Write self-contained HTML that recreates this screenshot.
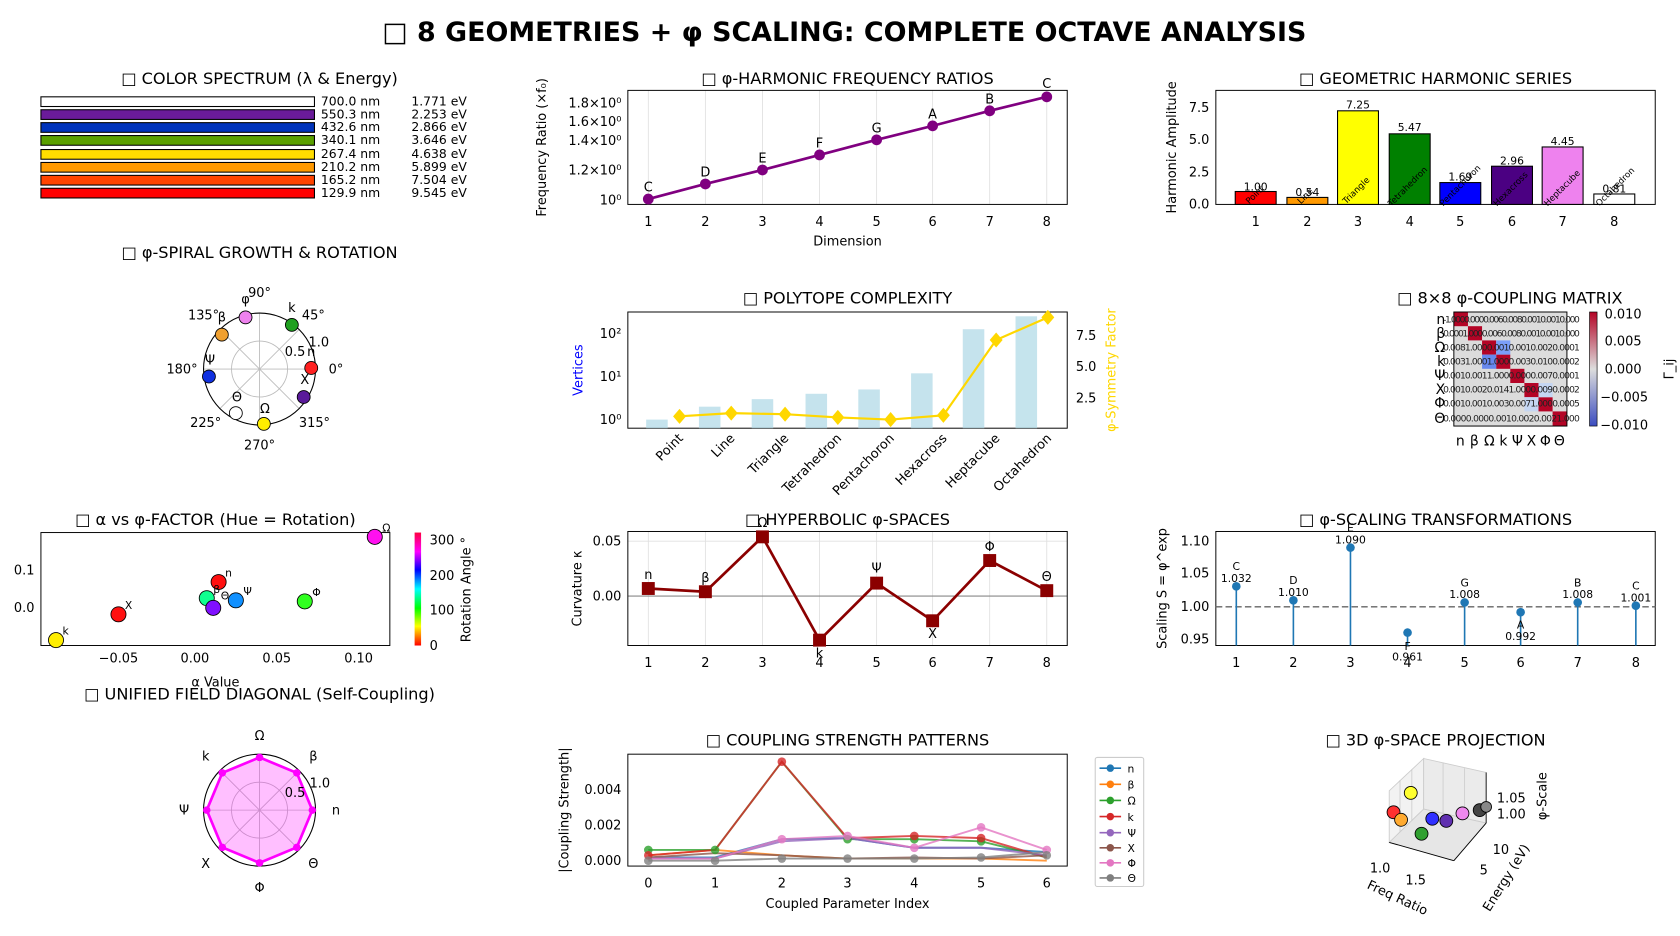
<!DOCTYPE html>
<html><head><meta charset="utf-8"><style>
html,body{margin:0;padding:0;background:#fff;}
svg{display:block;font-family:"DejaVu Sans","Liberation Sans",sans-serif;}
.t{font-size:15px;text-anchor:middle;fill:#000}
.k{font-size:12px;fill:#000}
.s{font-size:10px;fill:#000}
.ax{fill:none;stroke:#000;stroke-width:0.9}
.g{stroke:#e0e0e0;stroke-width:0.8}
</style></head><body>
<svg width="1680" height="936" viewBox="0 0 1560 870" preserveAspectRatio="none">
<defs>
<linearGradient id="cw" x1="0" y1="1" x2="0" y2="0"><stop offset="0" stop-color="#3b4cc0"/><stop offset="0.5" stop-color="#dddddd"/><stop offset="1" stop-color="#b40426"/></linearGradient>
<linearGradient id="hs" x1="0" y1="1" x2="0" y2="0"><stop offset="0" stop-color="#ff0000"/><stop offset="0.17" stop-color="#ffff00"/><stop offset="0.33" stop-color="#00ff00"/><stop offset="0.5" stop-color="#00ffff"/><stop offset="0.67" stop-color="#0000ff"/><stop offset="0.83" stop-color="#ff00ff"/><stop offset="1" stop-color="#ff0040"/></linearGradient>
</defs>
<text x="784" y="38" style="font-size:25px;font-weight:bold" text-anchor="middle">□ 8 GEOMETRIES + φ SCALING: COMPLETE OCTAVE ANALYSIS</text>

<!-- Panel 1 color spectrum -->
<text class="t" x="241" y="78">□ COLOR SPECTRUM (λ &amp; Energy)</text>
<g stroke="#000" stroke-width="1">
<rect x="38" y="90" width="254" height="9" fill="#ffffff"/>
<rect x="38" y="102" width="254" height="9" fill="#6a1b9a"/>
<rect x="38" y="114" width="254" height="9" fill="#0033bb"/>
<rect x="38" y="126" width="254" height="9" fill="#5aa000"/>
<rect x="38" y="139" width="254" height="9" fill="#ffdd00"/>
<rect x="38" y="151" width="254" height="9" fill="#ff9900"/>
<rect x="38" y="163" width="254" height="9" fill="#ff4400"/>
<rect x="38" y="175" width="254" height="9" fill="#ff0000"/>
</g>
<g class="k" style="font-size:11.5px">
<text x="298" y="98">700.0 nm</text><text x="382" y="98">1.771 eV</text>
<text x="298" y="110">550.3 nm</text><text x="382" y="110">2.253 eV</text>
<text x="298" y="122">432.6 nm</text><text x="382" y="122">2.866 eV</text>
<text x="298" y="134">340.1 nm</text><text x="382" y="134">3.646 eV</text>
<text x="298" y="147">267.4 nm</text><text x="382" y="147">4.638 eV</text>
<text x="298" y="159">210.2 nm</text><text x="382" y="159">5.899 eV</text>
<text x="298" y="171">165.2 nm</text><text x="382" y="171">7.504 eV</text>
<text x="298" y="183">129.9 nm</text><text x="382" y="183">9.545 eV</text>
</g>

<!-- Panel 2 freq ratios -->
<text class="t" x="787" y="78">□ φ-HARMONIC FREQUENCY RATIOS</text>
<g class="g"><line x1="602" y1="84" x2="602" y2="190"/><line x1="655" y1="84" x2="655" y2="190"/><line x1="708" y1="84" x2="708" y2="190"/><line x1="761" y1="84" x2="761" y2="190"/><line x1="814" y1="84" x2="814" y2="190"/><line x1="866" y1="84" x2="866" y2="190"/><line x1="919" y1="84" x2="919" y2="190"/><line x1="972" y1="84" x2="972" y2="190"/></g>
<rect class="ax" x="583" y="84" width="408" height="106"/>
<polyline fill="none" stroke="#800080" stroke-width="2.5" points="602,185 655,171 708,158 761,144 814,130 866,117 919,103 972,90"/>
<g fill="#800080"><circle cx="602" cy="185" r="5"/><circle cx="655" cy="171" r="5"/><circle cx="708" cy="158" r="5"/><circle cx="761" cy="144" r="5"/><circle cx="814" cy="130" r="5"/><circle cx="866" cy="117" r="5"/><circle cx="919" cy="103" r="5"/><circle cx="972" cy="90" r="5"/></g>
<g class="k" text-anchor="middle"><text x="602" y="178">C</text><text x="655" y="164">D</text><text x="708" y="151">E</text><text x="761" y="137">F</text><text x="814" y="123">G</text><text x="866" y="110">A</text><text x="919" y="96">B</text><text x="972" y="82">C</text>
<text x="602" y="210">1</text><text x="655" y="210">2</text><text x="708" y="210">3</text><text x="761" y="210">4</text><text x="814" y="210">5</text><text x="866" y="210">6</text><text x="919" y="210">7</text><text x="972" y="210">8</text>
<text x="787" y="228">Dimension</text></g>
<g class="k" text-anchor="end"><text x="577" y="100">1.8×10⁰</text><text x="577" y="117">1.6×10⁰</text><text x="577" y="135">1.4×10⁰</text><text x="577" y="162">1.2×10⁰</text><text x="577" y="190">10⁰</text></g>
<text class="k" transform="translate(507,137) rotate(-90)" text-anchor="middle">Frequency Ratio (×f₀)</text>

<!-- Panel 3 harmonic series -->
<text class="t" x="1333" y="78">□ GEOMETRIC HARMONIC SERIES</text>
<rect class="ax" x="1129" y="84" width="408" height="106"/>
<g stroke="#000" stroke-width="1">
<rect x="1147" y="178" width="38" height="12" fill="#ff0000"/>
<rect x="1195" y="183.5" width="38" height="6.5" fill="#ff9900"/>
<rect x="1242" y="103" width="38" height="87" fill="#ffff00"/>
<rect x="1290" y="124.4" width="38" height="65.6" fill="#008000"/>
<rect x="1337" y="169.7" width="38" height="20.3" fill="#0000ff"/>
<rect x="1385" y="154.5" width="38" height="35.5" fill="#4b0082"/>
<rect x="1432" y="136.6" width="38" height="53.4" fill="#ee82ee"/>
<rect x="1480" y="180.3" width="38" height="9.7" fill="#ffffff"/>
</g>
<g class="s" text-anchor="middle"><text x="1166" y="177">1.00</text><text x="1214" y="182">0.54</text><text x="1261" y="101">7.25</text><text x="1309" y="122">5.47</text><text x="1356" y="168">1.69</text><text x="1404" y="153">2.96</text><text x="1451" y="135">4.45</text><text x="1499" y="179">0.81</text></g>
<g style="font-size:8px">
<text transform="translate(1160,190) rotate(-45)">Point</text><text transform="translate(1208,190) rotate(-45)">Line</text><text transform="translate(1250,190) rotate(-45)">Triangle</text><text transform="translate(1292,192) rotate(-45)">Tetrahedron</text><text transform="translate(1340,192) rotate(-45)">Pentachoron</text><text transform="translate(1390,192) rotate(-45)">Hexacross</text><text transform="translate(1437,192) rotate(-45)">Heptacube</text><text transform="translate(1485,192) rotate(-45)">Octahedron</text></g>
<g class="k" text-anchor="middle"><text x="1166" y="210">1</text><text x="1214" y="210">2</text><text x="1261" y="210">3</text><text x="1309" y="210">4</text><text x="1356" y="210">5</text><text x="1404" y="210">6</text><text x="1451" y="210">7</text><text x="1499" y="210">8</text></g>
<g class="k" text-anchor="end"><text x="1123" y="194">0.0</text><text x="1123" y="164">2.5</text><text x="1123" y="134">5.0</text><text x="1123" y="104">7.5</text></g>
<text class="k" transform="translate(1092,137) rotate(-90)" text-anchor="middle">Harmonic Amplitude</text>

<!-- Panel 4 polar -->
<text class="t" x="241" y="240">□ φ-SPIRAL GROWTH &amp; ROTATION</text>
<g fill="none" stroke="#bbb" stroke-width="0.8"><circle cx="241" cy="343" r="26"/>
<line x1="189" y1="343" x2="293" y2="343"/><line x1="241" y1="291" x2="241" y2="395"/><line x1="204" y1="306" x2="278" y2="380"/><line x1="204" y1="380" x2="278" y2="306"/></g>
<circle cx="241" cy="343" r="52" fill="none" stroke="#000" stroke-width="1"/>
<g stroke="#000" stroke-width="0.8"><circle cx="228" cy="295" r="6" fill="#ee82ee"/><circle cx="206" cy="311" r="6" fill="#f0a030"/><circle cx="271" cy="302" r="6" fill="#20a020"/><circle cx="289" cy="342" r="6" fill="#ff2020"/><circle cx="282" cy="369" r="6" fill="#5a1a9a"/><circle cx="245" cy="394" r="6" fill="#ffee00"/><circle cx="219" cy="384" r="6" fill="#fff"/><circle cx="194" cy="350" r="6" fill="#1030e0"/></g>
<g class="k" text-anchor="middle"><text x="241" y="276">90°</text><text x="291" y="297">45°</text><text x="312" y="347">0°</text><text x="292" y="397">315°</text><text x="241" y="418">270°</text><text x="191" y="397">225°</text><text x="169" y="347">180°</text><text x="189" y="297">135°</text>
<text x="274" y="331">0.5</text><text x="296" y="322">1.0</text>
<text x="228" y="282">φ</text><text x="206" y="299">β</text><text x="271" y="290">k</text><text x="289" y="331">n</text><text x="283" y="357">X</text><text x="246" y="384">Ω</text><text x="220" y="373">Θ</text><text x="195" y="339">Ψ</text></g>

<!-- Panel 5 polytope -->
<text class="t" x="787" y="282">□ POLYTOPE COMPLEXITY</text>
<rect class="ax" x="583" y="290" width="408" height="108"/>
<g fill="#add8e6" opacity="0.7"><rect x="600" y="390" width="20" height="8"/><rect x="649" y="378" width="20" height="20"/><rect x="698" y="371" width="20" height="27"/><rect x="748" y="366" width="20" height="32"/><rect x="797" y="362" width="20" height="36"/><rect x="846" y="347" width="20" height="51"/><rect x="894" y="306" width="20" height="92"/><rect x="943" y="294" width="20" height="104"/></g>
<polyline fill="none" stroke="#ffd700" stroke-width="2" points="631,387 679,384 729,385 778,388 827,390 876,386 925,316 973,295"/>
<g fill="#ffd700"><path d="M631,380l6,7l-6,7l-6,-7z"/><path d="M679,377l6,7l-6,7l-6,-7z"/><path d="M729,378l6,7l-6,7l-6,-7z"/><path d="M778,381l6,7l-6,7l-6,-7z"/><path d="M827,383l6,7l-6,7l-6,-7z"/><path d="M876,379l6,7l-6,7l-6,-7z"/><path d="M925,309l6,7l-6,7l-6,-7z"/><path d="M973,288l6,7l-6,7l-6,-7z"/></g>
<g class="k" text-anchor="end"><text x="577" y="394">10⁰</text><text x="577" y="354">10¹</text><text x="577" y="314">10²</text></g>
<g class="k"><text x="999" y="374">2.5</text><text x="999" y="345">5.0</text><text x="999" y="316">7.5</text></g>
<text class="k" transform="translate(541,344) rotate(-90)" text-anchor="middle" fill="#0000ff" style="fill:#0000ff">Vertices</text>
<text class="k" transform="translate(1036,344) rotate(-90)" text-anchor="middle" style="fill:#ffd700">φ-Symmetry Factor</text>
<g class="k" text-anchor="end"><text transform="translate(635,408) rotate(-45)">Point</text><text transform="translate(683,408) rotate(-45)">Line</text><text transform="translate(733,408) rotate(-45)">Triangle</text><text transform="translate(782,408) rotate(-45)">Tetrahedron</text><text transform="translate(831,408) rotate(-45)">Pentachoron</text><text transform="translate(880,408) rotate(-45)">Hexacross</text><text transform="translate(929,408) rotate(-45)">Heptacube</text><text transform="translate(977,408) rotate(-45)">Octahedron</text></g>

<!-- Panel 6 matrix -->
<text class="t" x="1402" y="282">□ 8×8 φ-COUPLING MATRIX</text>
<rect x="1350" y="290" width="105" height="106" fill="#dcdcdc"/>
<g fill="#b40426"><rect x="1350" y="290" width="13.1" height="13.2"/><rect x="1363.1" y="303.2" width="13.1" height="13.2"/><rect x="1376.2" y="316.4" width="13.1" height="13.2"/><rect x="1389.3" y="329.6" width="13.1" height="13.2"/><rect x="1402.4" y="342.8" width="13.1" height="13.2"/><rect x="1415.5" y="356" width="13.1" height="13.2"/><rect x="1428.6" y="369.2" width="13.1" height="13.2"/><rect x="1441.7" y="382.4" width="13.3" height="13.6"/></g>
<rect x="1389.3" y="316.4" width="13.1" height="13.2" fill="#7b9ff9"/><rect x="1376.2" y="329.6" width="13.1" height="13.2" fill="#6788ee"/>
<rect x="1415.5" y="369.2" width="13.1" height="13.2" fill="#c5d6f2"/><rect x="1428.6" y="356" width="13.1" height="13.2" fill="#c5d6f2"/>
<rect class="ax" x="1350" y="290" width="105" height="106"/>
<g style="font-size:8.5px" fill="#222"><text x="1340" y="300" textLength="127">-1.0000.0000.0060.0080.0010.0010.000</text><text x="1340" y="313" textLength="127">0.0001.0000.0060.0080.0010.0010.000</text><text x="1340" y="326" textLength="127">0.0081.0000.0010.0010.0020.0001</text><text x="1340" y="339" textLength="127">0.0031.0001.0000.0030.0100.0002</text><text x="1340" y="352" textLength="127">0.0010.0011.0000.0000.0070.0001</text><text x="1340" y="365" textLength="127">0.0010.0020.0141.0000.0090.0002</text><text x="1340" y="378" textLength="127">0.0010.0010.0030.0071.0000.0005</text><text x="1340" y="392" textLength="127">0.0000.0000.0010.0020.0021.000</text></g>
<g class="k" text-anchor="end" style="font-size:13px"><text x="1342" y="301">n</text><text x="1342" y="314">β</text><text x="1342" y="327">Ω</text><text x="1342" y="340">k</text><text x="1342" y="353">Ψ</text><text x="1342" y="366">X</text><text x="1342" y="379">Φ</text><text x="1342" y="393">Θ</text></g>
<g class="k" text-anchor="middle" style="font-size:13px"><text x="1356" y="414">n</text><text x="1369" y="414">β</text><text x="1383" y="414">Ω</text><text x="1396" y="414">k</text><text x="1409" y="414">Ψ</text><text x="1422" y="414">X</text><text x="1435" y="414">Φ</text><text x="1448" y="414">Θ</text></g>
<rect x="1476" y="290" width="7" height="106" fill="url(#cw)" stroke="#000" stroke-width="0.6"/>
<g class="k"><text x="1490" y="296">0.010</text><text x="1490" y="321">0.005</text><text x="1490" y="347">0.000</text><text x="1486" y="373">−0.005</text><text x="1486" y="399">−0.010</text></g>
<text class="k" transform="translate(1554,343) rotate(-90)" text-anchor="middle">Γ_ij</text>

<!-- Panel 7 scatter -->
<text class="t" x="200" y="488">□ α vs φ-FACTOR (Hue = Rotation)</text>
<rect class="ax" x="38" y="495" width="324" height="105"/>
<g stroke="#000" stroke-width="0.8"><circle cx="52" cy="595" r="7" fill="#ffee00"/><circle cx="110" cy="571" r="7" fill="#ff1010"/><circle cx="348" cy="499" r="7" fill="#ff10f0"/><circle cx="203" cy="541" r="7" fill="#ff1010"/><circle cx="283" cy="559" r="7" fill="#30ff20"/><circle cx="219" cy="558" r="7" fill="#1090ff"/><circle cx="192" cy="556" r="7" fill="#10ff90"/><circle cx="198" cy="565" r="7" fill="#8010ff"/></g>
<g class="s"><text x="58" y="590">k</text><text x="116" y="566">X</text><text x="355" y="494">Ω</text><text x="209" y="536">n</text><text x="290" y="554">Φ</text><text x="226" y="553">Ψ</text><text x="198" y="551">β</text><text x="205" y="557">Θ</text></g>
<g class="k" text-anchor="middle"><text x="110" y="616">−0.05</text><text x="181" y="616">0.00</text><text x="257" y="616">0.05</text><text x="333" y="616">0.10</text><text x="200" y="638">α Value</text></g>
<g class="k" text-anchor="end"><text x="32" y="534">0.1</text><text x="32" y="569">0.0</text></g>
<rect x="385" y="495" width="6" height="105" fill="url(#hs)"/>
<g class="k"><text x="399" y="604">0</text><text x="399" y="571">100</text><text x="399" y="539">200</text><text x="399" y="506">300</text></g>
<text class="k" transform="translate(437,548) rotate(-90)" text-anchor="middle">Rotation Angle °</text>

<!-- Panel 8 hyperbolic -->
<text class="t" x="787" y="488">□ HYPERBOLIC φ-SPACES</text>
<g class="g"><line x1="602" y1="494" x2="602" y2="600"/><line x1="655" y1="494" x2="655" y2="600"/><line x1="708" y1="494" x2="708" y2="600"/><line x1="761" y1="494" x2="761" y2="600"/><line x1="814" y1="494" x2="814" y2="600"/><line x1="866" y1="494" x2="866" y2="600"/><line x1="919" y1="494" x2="919" y2="600"/><line x1="972" y1="494" x2="972" y2="600"/><line x1="583" y1="503" x2="991" y2="503"/></g>
<line x1="583" y1="554" x2="991" y2="554" stroke="#888" stroke-width="1"/>
<rect class="ax" x="583" y="494" width="408" height="106"/>
<polyline fill="none" stroke="#8b0000" stroke-width="2.5" points="602,547 655,550 708,499 761,595 814,542 866,577 919,521 972,549"/>
<g fill="#8b0000"><rect x="596" y="541" width="12" height="12"/><rect x="649" y="544" width="12" height="12"/><rect x="702" y="493" width="12" height="12"/><rect x="755" y="589" width="12" height="12"/><rect x="808" y="536" width="12" height="12"/><rect x="860" y="571" width="12" height="12"/><rect x="913" y="515" width="12" height="12"/><rect x="966" y="543" width="12" height="12"/></g>
<g class="k" text-anchor="middle"><text x="602" y="538">n</text><text x="655" y="541">β</text><text x="708" y="490">Ω</text><text x="761" y="611">k</text><text x="814" y="532">Ψ</text><text x="866" y="593">X</text><text x="919" y="512">Φ</text><text x="972" y="540">Θ</text>
<text x="602" y="620">1</text><text x="655" y="620">2</text><text x="708" y="620">3</text><text x="761" y="620">4</text><text x="814" y="620">5</text><text x="866" y="620">6</text><text x="919" y="620">7</text><text x="972" y="620">8</text></g>
<g class="k" text-anchor="end"><text x="577" y="507">0.05</text><text x="577" y="558">0.00</text></g>
<text class="k" transform="translate(540,547) rotate(-90)" text-anchor="middle">Curvature κ</text>

<!-- Panel 9 stems -->
<text class="t" x="1333" y="488">□ φ-SCALING TRANSFORMATIONS</text>
<rect class="ax" x="1129" y="494" width="408" height="106"/>
<line x1="1129" y1="564" x2="1537" y2="564" stroke="#666" stroke-width="1.3" stroke-dasharray="6,3"/>
<g stroke="#1f77b4" stroke-width="1.5"><line x1="1148" y1="600" x2="1148" y2="545"/><line x1="1201" y1="600" x2="1201" y2="558"/><line x1="1254" y1="600" x2="1254" y2="509"/><line x1="1307" y1="600" x2="1307" y2="588"/><line x1="1360" y1="600" x2="1360" y2="560"/><line x1="1412" y1="600" x2="1412" y2="569"/><line x1="1465" y1="600" x2="1465" y2="560"/><line x1="1519" y1="600" x2="1519" y2="563"/></g>
<g fill="#1f77b4"><circle cx="1148" cy="545" r="4"/><circle cx="1201" cy="558" r="4"/><circle cx="1254" cy="509" r="4"/><circle cx="1307" cy="588" r="4"/><circle cx="1360" cy="560" r="4"/><circle cx="1412" cy="569" r="4"/><circle cx="1465" cy="560" r="4"/><circle cx="1519" cy="563" r="4"/></g>
<g class="s" text-anchor="middle"><text x="1148" y="530">C</text><text x="1148" y="541">1.032</text><text x="1201" y="543">D</text><text x="1201" y="554">1.010</text><text x="1254" y="494">E</text><text x="1254" y="505">1.090</text><text x="1307" y="604">F</text><text x="1307" y="614">0.961</text><text x="1360" y="545">G</text><text x="1360" y="556">1.008</text><text x="1412" y="584">A</text><text x="1412" y="595">0.992</text><text x="1465" y="545">B</text><text x="1465" y="556">1.008</text><text x="1519" y="548">C</text><text x="1519" y="559">1.001</text></g>
<g class="k" text-anchor="middle"><text x="1148" y="620">1</text><text x="1201" y="620">2</text><text x="1254" y="620">3</text><text x="1307" y="620">4</text><text x="1360" y="620">5</text><text x="1412" y="620">6</text><text x="1465" y="620">7</text><text x="1519" y="620">8</text></g>
<g class="k" text-anchor="end"><text x="1123" y="507">1.10</text><text x="1123" y="537">1.05</text><text x="1123" y="568">1.00</text><text x="1123" y="598">0.95</text></g>
<text class="k" transform="translate(1083,547) rotate(-90)" text-anchor="middle">Scaling S = φ^exp</text>

<!-- Panel 10 radar -->
<text class="t" x="241" y="650">□ UNIFIED FIELD DIAGONAL (Self-Coupling)</text>
<g fill="none" stroke="#bbb" stroke-width="0.8"><circle cx="241" cy="753" r="26"/><line x1="189" y1="753" x2="293" y2="753"/><line x1="241" y1="701" x2="241" y2="805"/><line x1="204" y1="716" x2="278" y2="790"/><line x1="204" y1="790" x2="278" y2="716"/></g>
<circle cx="241" cy="753" r="52" fill="none" stroke="#000"/>
<polygon points="241,704 275.6,718.4 290,753 275.6,787.6 241,802 206.4,787.6 192,753 206.4,718.4" fill="#ff00ff" fill-opacity="0.25" stroke="#ff00ff" stroke-width="2.5"/>
<g fill="#ff00ff"><circle cx="241" cy="704" r="3.5"/><circle cx="275.6" cy="718.4" r="3.5"/><circle cx="290" cy="753" r="3.5"/><circle cx="275.6" cy="787.6" r="3.5"/><circle cx="241" cy="802" r="3.5"/><circle cx="206.4" cy="787.6" r="3.5"/><circle cx="192" cy="753" r="3.5"/><circle cx="206.4" cy="718.4" r="3.5"/></g>
<g class="k" text-anchor="middle"><text x="241" y="688">Ω</text><text x="291" y="707">β</text><text x="312" y="757">n</text><text x="291" y="807">Θ</text><text x="241" y="829">Φ</text><text x="191" y="807">X</text><text x="171" y="757">Ψ</text><text x="191" y="707">k</text><text x="274" y="741">0.5</text><text x="297" y="732">1.0</text></g>

<!-- Panel 11 coupling strength -->
<text class="t" x="787" y="693">□ COUPLING STRENGTH PATTERNS</text>
<rect class="ax" x="583" y="701" width="408" height="104"/>
<g fill="none" stroke-width="1.8" stroke-opacity="0.8">
<polyline stroke="#1f77b4" points="602,797 664,797 726,780 787,779 849,788 911,788 972,792"/>
<polyline stroke="#ff7f0e" points="602,795 664,790 726,795 787,798 849,798 911,798 972,800"/>
<polyline stroke="#2ca02c" points="602,790 664,790 726,708 787,780 849,780 911,782 972,797"/>
<polyline stroke="#d62728" points="602,795 664,790 726,708 787,779 849,777 911,779 972,797"/>
<polyline stroke="#9467bd" points="602,798 664,798 726,782 787,779 849,788 911,788 972,795"/>
<polyline stroke="#8c564b" points="602,797 664,793 726,795 787,798 849,797 911,798 972,795"/>
<polyline stroke="#e377c2" points="602,798 664,798 726,780 787,777 849,788 911,769 972,790"/>
<polyline stroke="#7f7f7f" points="602,800 664,800 726,798 787,798 849,798 911,797 972,792"/>
</g>
<g fill-opacity="0.8"><g fill="#2ca02c"><circle cx="602" cy="790" r="4"/><circle cx="664" cy="790" r="4"/><circle cx="787" cy="780" r="4"/><circle cx="849" cy="780" r="4"/><circle cx="911" cy="782" r="4"/></g><g fill="#d62728"><circle cx="726" cy="708" r="4"/><circle cx="849" cy="777" r="4"/><circle cx="911" cy="779" r="4"/><circle cx="602" cy="795" r="4"/></g><g fill="#e377c2"><circle cx="726" cy="780" r="4"/><circle cx="787" cy="777" r="4"/><circle cx="911" cy="769" r="4"/><circle cx="972" cy="790" r="4"/><circle cx="849" cy="788" r="4"/></g><g fill="#7f7f7f"><circle cx="602" cy="800" r="4"/><circle cx="664" cy="800" r="4"/><circle cx="726" cy="798" r="4"/><circle cx="787" cy="798" r="4"/><circle cx="849" cy="798" r="4"/><circle cx="911" cy="797" r="4"/><circle cx="972" cy="795" r="4"/></g></g>
<g class="k" text-anchor="middle"><text x="602" y="825">0</text><text x="664" y="825">1</text><text x="726" y="825">2</text><text x="787" y="825">3</text><text x="849" y="825">4</text><text x="911" y="825">5</text><text x="972" y="825">6</text><text x="787" y="844">Coupled Parameter Index</text></g>
<g class="k" text-anchor="end"><text x="577" y="804">0.000</text><text x="577" y="771">0.002</text><text x="577" y="738">0.004</text></g>
<text class="k" transform="translate(528,753) rotate(-90)" text-anchor="middle">|Coupling Strength|</text>
<rect x="1017" y="704" width="45" height="120" fill="#fff" stroke="#ccc" rx="2"/>
<g stroke-width="1.5">
<line x1="1021" y1="714" x2="1041" y2="714" stroke="#1f77b4"/><circle cx="1031" cy="714" r="3.5" fill="#1f77b4"/>
<line x1="1021" y1="729" x2="1041" y2="729" stroke="#ff7f0e"/><circle cx="1031" cy="729" r="3.5" fill="#ff7f0e"/>
<line x1="1021" y1="744" x2="1041" y2="744" stroke="#2ca02c"/><circle cx="1031" cy="744" r="3.5" fill="#2ca02c"/>
<line x1="1021" y1="759" x2="1041" y2="759" stroke="#d62728"/><circle cx="1031" cy="759" r="3.5" fill="#d62728"/>
<line x1="1021" y1="774" x2="1041" y2="774" stroke="#9467bd"/><circle cx="1031" cy="774" r="3.5" fill="#9467bd"/>
<line x1="1021" y1="788" x2="1041" y2="788" stroke="#8c564b"/><circle cx="1031" cy="788" r="3.5" fill="#8c564b"/>
<line x1="1021" y1="802" x2="1041" y2="802" stroke="#e377c2"/><circle cx="1031" cy="802" r="3.5" fill="#e377c2"/>
<line x1="1021" y1="816" x2="1041" y2="816" stroke="#7f7f7f"/><circle cx="1031" cy="816" r="3.5" fill="#7f7f7f"/></g>
<g class="s"><text x="1047" y="718">n</text><text x="1047" y="733">β</text><text x="1047" y="748">Ω</text><text x="1047" y="763">k</text><text x="1047" y="778">Ψ</text><text x="1047" y="792">X</text><text x="1047" y="806">Φ</text><text x="1047" y="820">Θ</text></g>

<!-- Panel 12 3D -->
<text class="t" x="1333" y="693">□ 3D φ-SPACE PROJECTION</text>
<g fill="none" stroke="#ccc" stroke-width="0.8"><polygon points="1290,735 1322,705 1322,752 1290,783" fill="#f2f2f2"/><polygon points="1322,705 1380,718 1380,765 1322,752" fill="#ebebeb"/><polygon points="1290,783 1322,752 1380,765 1350,800" fill="#e6e6e6"/>
<line x1="1300" y1="725" x2="1300" y2="773"/><line x1="1311" y1="715" x2="1311" y2="763"/><line x1="1340" y1="709" x2="1340" y2="756"/><line x1="1360" y1="714" x2="1360" y2="760"/></g>
<line x1="1290" y1="783" x2="1350" y2="800" stroke="#000" stroke-width="0.8"/><line x1="1350" y1="800" x2="1380" y2="765" stroke="#000" stroke-width="0.8"/><line x1="1380" y1="765" x2="1380" y2="718" stroke="#000" stroke-width="0.8"/>
<g stroke="#000" stroke-width="0.8"><circle cx="1310" cy="737" r="6" fill="#ffff30"/><circle cx="1294" cy="755" r="6" fill="#ff3030"/><circle cx="1301" cy="762" r="6" fill="#ffaa30"/><circle cx="1320" cy="775" r="6" fill="#30a030"/><circle cx="1330" cy="761" r="6" fill="#3030ff"/><circle cx="1343" cy="763" r="6" fill="#6030b0"/><circle cx="1358" cy="756" r="6" fill="#ee88ee"/><circle cx="1374" cy="753" r="6" fill="#444"/><circle cx="1380" cy="750" r="5" fill="#888"/></g>
<g class="k"><text x="1390" y="746">1.05</text><text x="1390" y="761">1.00</text><text x="1386" y="794">10</text><text x="1374" y="813">5</text><text x="1272" y="811">1.0</text><text x="1305" y="822">1.5</text></g>
<text class="k" transform="translate(1436,740) rotate(-90)" text-anchor="middle">φ-Scale</text>
<text class="k" transform="translate(1402,818) rotate(-58)" text-anchor="middle">Energy (eV)</text>
<text class="k" transform="translate(1296,838) rotate(25)" text-anchor="middle">Freq Ratio</text>
</svg>
</body></html>
